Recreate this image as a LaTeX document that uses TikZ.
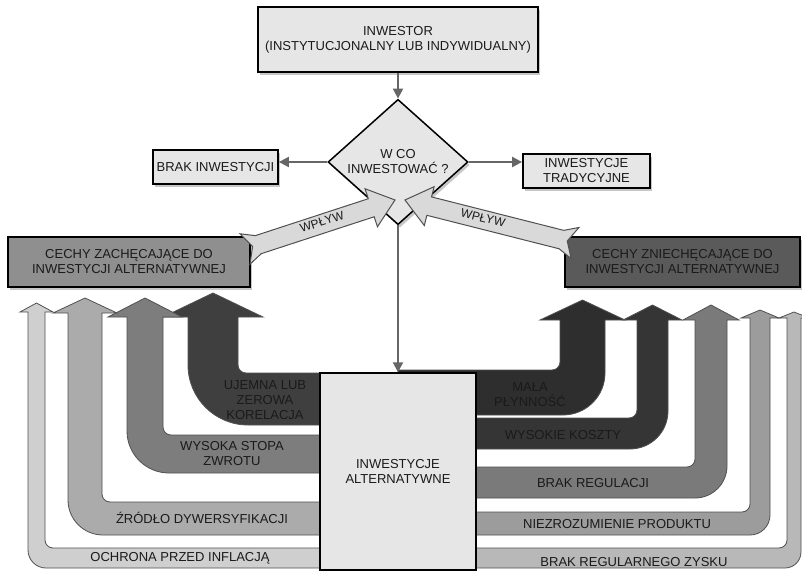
\documentclass[tikz,border=0pt]{standalone}
\usepackage{fontspec}
\setmainfont{Liberation Sans}
\usepackage{tikz}
\usetikzlibrary{positioning, calc, shapes.geometric, arrows.meta, shadows}
\definecolor{ink}{HTML}{1A1A1A}
\definecolor{boxgray}{HTML}{E6E6E6}
\definecolor{linegray}{HTML}{666666}
\definecolor{edgegray}{HTML}{505050}
\definecolor{inflgray}{HTML}{D9D9D9}
\definecolor{pluscol}{HTML}{8F8F8F}
\definecolor{minuscol}{HTML}{5A5A5A}
\definecolor{arrA}{HTML}{CFCFCF}
\definecolor{arrB}{HTML}{ABABAB}
\definecolor{arrC}{HTML}{7D7D7D}
\definecolor{arrD}{HTML}{3F3F3F}
\definecolor{arrE}{HTML}{2E2E2E}
\definecolor{arrF}{HTML}{353535}
\definecolor{arrG}{HTML}{7A7A7A}
\definecolor{arrH}{HTML}{9C9C9C}
\definecolor{arrI}{HTML}{B8B8B8}

% bent band arrow: fill, inner x, outer x, band top, band bottom, head base, tip, head overhang, outer radius
\newcommand{\bendarrow}[9]{%
  \pgfmathsetmacro{\bendsign}{sign(#2-#3)}%
  \draw[band, fill=#1] (398,#4) -- ({#2+(\bendsign)*8},#4)
    .. controls ({#2+(\bendsign)*3.6},#4) and (#2,{#4-3.6}) .. (#2,{#4-8})
    -- (#2,#6) -- ({#2+(\bendsign)*#8},#6) -- ({(#2+#3)/2},#7) -- ({#3-(\bendsign)*#8},#6) -- (#3,#6)
    -- (#3,{#5-#9}) .. controls (#3,{#5-0.448*#9}) and ({#3+(\bendsign)*0.448*#9},#5) .. ({#3+(\bendsign)*#9},#5)
    -- (398,#5) -- cycle;}

% influence arrow: tail x, tail y, angle, length
\newcommand{\wplyw}[4]{%
  \draw[infl, shift={(#1,#2)}, rotate=#3] (0,16) -- (14,9.5) -- ({#4-25},9.5) -- ({#4-25},20) -- (#4,0)
    -- ({#4-25},-20) -- ({#4-25},-9.5) -- (14,-9.5) -- (0,-16) -- (8,0) -- cycle;}

\begin{document}
\begin{tikzpicture}[x=1pt, y=-1pt, >={Triangle[length=10pt,width=10pt]},
    every node/.style={font=\fontsize{13}{15}\selectfont, text=ink, align=center},
    box/.style={draw=black, line width=1.8pt, rectangle, fill=boxgray, inner sep=2pt,
      drop shadow={shadow xshift=2pt, shadow yshift=-3pt, fill=black!22, opacity=1}},
    conn/.style={->, draw=linegray, line width=2.2pt},
    band/.style={draw=edgegray, line width=0.8pt},
    infl/.style={draw=edgegray, line width=1pt, fill=inflgray}]
\useasboundingbox (0,0) rectangle (802,572);

% features of alternative investments
\bendarrow{arrD}{238}{188}{373}{425}{317}{293}{25}{60}
\bendarrow{arrC}{163}{127}{435}{473}{317}{298}{19}{42}
\bendarrow{arrB}{102}{68}{502}{535}{313}{298}{15}{35}
\bendarrow{arrA}{45}{28}{548}{568}{312}{303}{8}{18}
\bendarrow{arrE}{560}{605}{370}{415}{320}{300}{20}{42}
\bendarrow{arrF}{637}{668}{418}{449}{320}{305}{14}{38}
\bendarrow{arrG}{695}{727}{467}{498}{320}{305}{12}{32}
\bendarrow{arrH}{750}{770}{512}{535}{318}{310}{9}{20}
\bendarrow{arrI}{787}{801}{548}{568}{318}{312}{8}{16}

\node (korel) at (265,400) {UJEMNA LUB\\ZEROWA\\KORELACJA};
\node (zwrot) at (232,454) {WYSOKA STOPA\\ZWROTU};
\node (dywers) at (202,518) {ŹRÓDŁO DYWERSYFIKACJI};
\node (inflac) at (180,558) {OCHRONA PRZED INFLACJĄ};
\node (plynn) at (530,395) {MAŁA\\PŁYNNOŚĆ};
\node (koszty) at (563,435) {WYSOKIE KOSZTY};
\node (regul) at (593,483) {BRAK REGULACJI};
\node (produkt) at (617,524) {NIEZROZUMIENIE PRODUKTU};
\node (zysk) at (634,562) {BRAK REGULARNEGO ZYSKU};

\node[draw=black, line width=1.5pt, fill=boxgray, minimum width=156pt, minimum height=197pt] (alt) at (398,471.5) {INWESTYCJE\\ALTERNATYWNE};

\node[box, fill=pluscol, minimum width=242pt, minimum height=50pt] (zach) at (129,262) {CECHY ZACHĘCAJĄCE DO\\INWESTYCJI ALTERNATYWNEJ};
\node[box, fill=minuscol, minimum width=235pt, minimum height=50pt] (zniech) at (682.5,262) {CECHY ZNIECHĘCAJĄCE DO\\INWESTYCJI ALTERNATYWNEJ};

\node[box, minimum width=280pt, minimum height=65pt] (inv) at (398,39.5) {INWESTOR\\(INSTYTUCJONALNY LUB INDYWIDUALNY)};
\node[box, diamond, line width=1.5pt, inner sep=0pt, minimum width=140pt, minimum height=92pt] (wco) at (398,162) {W CO\\INWESTOWAĆ ?};
\node[box, minimum width=125pt, minimum height=34pt] (brak) at (215.5,167) {BRAK INWESTYCJI};
\node[box, minimum width=127pt, minimum height=34pt] (trad) at (586.5,171) {INWESTYCJE\\TRADYCYJNE};

\draw[conn] (inv) -- (wco);
\draw[conn] (wco.west) -- (brak.east |- wco.west);
\draw[conn] (wco.east) -- (trad.west |- wco.east);
\draw[conn] (wco.south) -- (alt.north);

\wplyw{245}{249}{18.1}{157.8}
\wplyw{575}{243}{165.8}{175.4}
\node[rotate=18, font=\fontsize{12}{14}\selectfont, inner sep=0pt] (wpl) at (322,222) {WPŁYW};
\node[rotate=-14, font=\fontsize{12}{14}\selectfont, inner sep=0pt] (wpr) at (483,218) {WPŁYW};

\end{tikzpicture}
\end{document}
